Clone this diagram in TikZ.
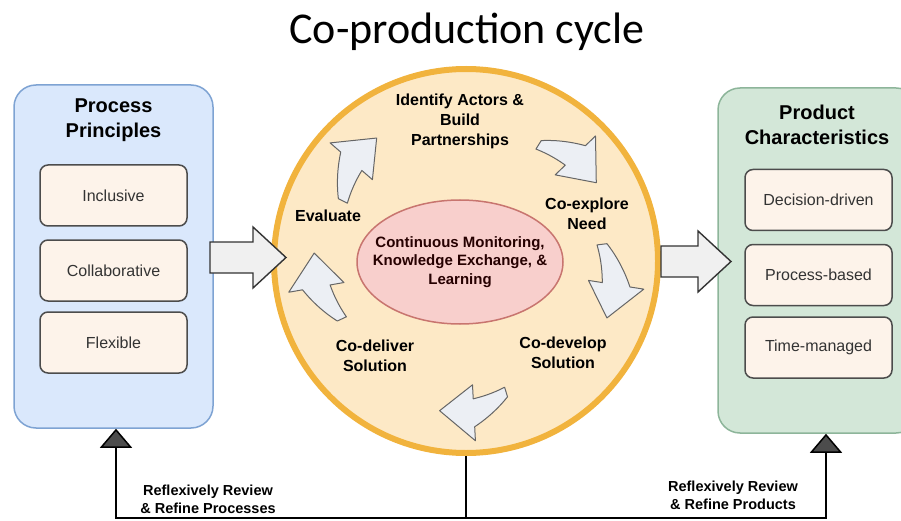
\documentclass[tikz,border=0pt]{standalone}
\usepackage{fontspec}
\setmainfont{Liberation Sans}
\newfontfamily\titlefont{Carlito}
\usetikzlibrary{arrows.meta,shapes.geometric}
\definecolor{blueback}{HTML}{DAE8FC}
\definecolor{blueline}{HTML}{7EA3D3}
\definecolor{greenback}{HTML}{D3E7D8}
\definecolor{greenline}{HTML}{8DB59A}
\definecolor{itemback}{HTML}{FDF3EA}
\definecolor{ringback}{HTML}{FDE9C6}
\definecolor{ringline}{HTML}{F1B33D}
\definecolor{coreback}{HTML}{F8CFCC}
\definecolor{coreline}{HTML}{C8756F}
\definecolor{stepback}{HTML}{ECEFF4}
\tikzset{
  panel/.style={draw, rounded corners=22pt, line width=1.5pt},
  paneltitle/.style={align=center, font=\fontsize{20}{25}\selectfont\bfseries},
  item/.style={draw=black!70, fill=itemback, rounded corners=8pt, line width=1.5pt,
    minimum width=147pt, minimum height=61pt, text=black!80, font=\fontsize{16}{19}\selectfont},
  ring/.style={circle, draw=ringline, fill=ringback, line width=6pt, inner sep=0pt},
  core/.style={ellipse, draw=coreline, fill=coreback, line width=1.5pt, inner sep=0pt,
    minimum width=206pt, minimum height=124pt},
  corelabel/.style={align=center, text=black!85!red, font=\fontsize{15}{18.5}\selectfont\bfseries},
  stagelabel/.style={align=center, font=\fontsize{16}{20}\selectfont\bfseries},
  cyclearrow/.style={draw=black!60, fill=stepback, line width=1pt, line join=round},
  bigarrow/.style={draw=black!80, fill=black!6, line width=1.4pt},
  feedback/.style={draw=black, line width=1.5pt},
  feedtip/.style={-{Triangle[width=32pt,length=19pt,fill=black!70]}},
  feedlabel/.style={align=center, font=\fontsize{14.5}{18}\selectfont\bfseries}
}
\begin{document}
\begin{tikzpicture}[x=1pt,y=1pt]
\clip (0,0) rectangle (901,-521);
\useasboundingbox (0,0) rectangle (901,-521);
% title
\node[font=\titlefont\fontsize{44}{50}\selectfont] (title) at (467,-32) {Co-production cycle};
% left panel
\node[panel, draw=blueline, fill=blueback, minimum width=199pt, minimum height=343pt] (principles) at (113.5,-256.5) {};
\node[paneltitle] (principlestitle) at (113.5,-120.5) {Process\\Principles};
\node[item] (inclusive) at (113.5,-195.5) {Inclusive};
\node[item] (collaborative) at (113.5,-270.5) {Collaborative};
\node[item] (flexible) at (113.5,-342.5) {Flexible};
% right panel
\node[panel, draw=greenline, fill=greenback, minimum width=200pt, minimum height=345pt] (products) at (818,-260.5) {};
\node[paneltitle] (productstitle) at (817,-125) {Product\\Characteristics};
\node[item] (decision) at (818.5,-200) {Decision-driven};
\node[item] (processbased) at (818.5,-275) {Process-based};
\node[item] (timemanaged) at (818.5,-347.5) {Time-managed};
% cycle
\node[ring, minimum size=384pt] (cycle) at (466,-261) {};
\node[core] (core) at (460,-262) {};
\node[corelabel] (corelabel) at (core) {Continuous Monitoring,\\Knowledge Exchange, \&\\Learning};
\node[stagelabel] (identify) at (460,-121) {Identify Actors \&\\Build\\Partnerships};
\node[stagelabel] (explore) at (587,-213.5) {Co-explore\\Need};
\node[stagelabel] (develop) at (563,-353) {Co-develop\\Solution};
\node[stagelabel] (deliver) at (375,-356) {Co-deliver\\Solution};
\node[stagelabel] (evaluate) at (328,-216) {Evaluate};
% curved arrows round the cycle
\begin{scope}[shift={(cycle.center)}]
  \foreach \s/\e in {58/31, 7/-22, -73/-100, 205/177, 154/126} {
    \pgfmathsetmacro\m{\e+13}
    \filldraw[cyclearrow] plot[domain=\s:\m, samples=12] (\x:{142+24*(\x-\s)/(\m-\s)})
      -- (\m:180) -- (\e:152) -- (\m:124)
      -- plot[domain=\m:\s, samples=12] (\x:{132+6*(\x-\s)/(\m-\s)}) -- cycle;
  }
\end{scope}
% block arrows
\draw[bigarrow] (210,-242) -- ++(43,0) -- ++(0,15) -- ++(33,-30.5) -- ++(-33,-30.5) -- ++(0,15) -- ++(-43,0) -- cycle;
\draw[bigarrow] ([yshift=15pt]cycle.east) -- ++(37,0) -- ++(0,15) -- ++(33,-30.5) -- ++(-33,-30.5) -- ++(0,15) -- ++(-37,0) -- cycle;
% review loops
\coordinate (junction) at (466,-518);
\coordinate (leftturn) at (116,-518);
\coordinate (rightturn) at (826,-518);
\draw[feedback] (cycle.south) -- (junction);
\draw[feedback, feedtip] (junction) -- (leftturn) -- (leftturn |- principles.south);
\draw[feedback, feedtip] (junction) -- (rightturn) -- (rightturn |- products.south);
\node[feedlabel] (processlabel) at (208,-499) {Reflexively Review\\\& Refine Processes};
\node[feedlabel] (productlabel) at (733,-495) {Reflexively Review\\\& Refine Products};
\end{tikzpicture}
\end{document}
